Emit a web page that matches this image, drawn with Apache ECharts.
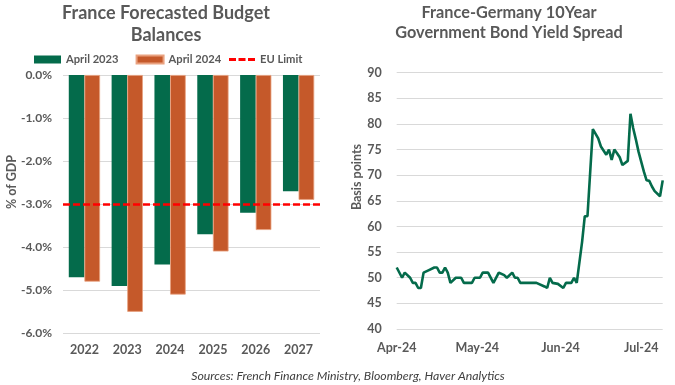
<!DOCTYPE html>
<html><head><meta charset="utf-8">
<script src="https://cdn.jsdelivr.net/npm/echarts@6/dist/echarts.min.js"></script>
<style>html,body{margin:0;padding:0;background:#fff}#c{width:675px;height:385px}</style>
</head><body><div id="c"></div>
<script>
// ---- Left chart data ----
const years = ['2022', '2023', '2024', '2025', '2026', '2027'];
const april2023 = [-4.7, -4.9, -4.4, -3.7, -3.2, -2.7];
const april2024 = [-4.8, -5.5, -5.1, -4.1, -3.6, -2.9];
const euLimit = -3.0;

// ---- Right chart data ----
const spreadDates = [
  '2024-04-01','2024-04-03','2024-04-04','2024-04-06','2024-04-07','2024-04-08','2024-04-09','2024-04-10',
  '2024-04-11','2024-04-13','2024-04-15','2024-04-16','2024-04-17','2024-04-18','2024-04-19','2024-04-20',
  '2024-04-21','2024-04-23','2024-04-25','2024-04-26','2024-04-29','2024-04-30','2024-05-02','2024-05-03',
  '2024-05-05','2024-05-07','2024-05-09','2024-05-11','2024-05-12','2024-05-14','2024-05-15','2024-05-16',
  '2024-05-17','2024-05-23','2024-05-26','2024-05-27','2024-05-28','2024-05-29','2024-05-31','2024-06-02',
  '2024-06-03','2024-06-05','2024-06-06','2024-06-07','2024-06-08','2024-06-09','2024-06-10','2024-06-11',
  '2024-06-13','2024-06-15','2024-06-16','2024-06-18','2024-06-19','2024-06-20','2024-06-21','2024-06-22',
  '2024-06-23','2024-06-24','2024-06-26','2024-06-27','2024-06-28','2024-06-29','2024-06-30','2024-07-02',
  '2024-07-03','2024-07-04','2024-07-05','2024-07-06','2024-07-08','2024-07-09'
];
const spreadValues = [
  52, 50, 51, 50, 49, 49, 48, 48,
  51, 51.5, 52, 52, 51, 51, 52, 51,
  49, 50, 50, 49, 49, 50, 50, 51,
  51, 49, 51, 50.5, 50, 51, 50, 50,
  49, 49, 48.3, 48, 50, 49, 48.8, 48,
  49, 49, 50, 49, 53, 57, 62, 62,
  79, 77.2, 75.6, 74, 75, 73, 75, 74.3,
  73.5, 72, 72.8, 82, 79.2, 77, 74.6, 70.7,
  69, 68.9, 67.8, 66.9, 65.9, 69
];
const spreadStart = '2024-04-01';
const spreadEnd = '2024-07-09';
const monthTicks = ['2024-04-01', '2024-05-01', '2024-06-01', '2024-07-01'];
const monthLabels = ['Apr-24', 'May-24', 'Jun-24', 'Jul-24'];

// day number counted from the first date (calendar days)
function dayNum(s) { const p = s.split('-').map(Number); return Math.round(Date.UTC(p[0], p[1] - 1, p[2]) / 86400000); }
const day0 = dayNum(spreadStart);
function dayOf(s) { return dayNum(s) - day0; }

const FONT = 'Lato';
const TXT = '#595959';
const GREEN = '#046B4B';
const ORANGE = '#C5592A';
const GRIDC = '#D9D9D9';

const chart = echarts.init(document.getElementById('c'), null, { renderer: 'canvas' });
const tickDays = monthTicks.map(dayOf);
const option = {
  animation: false,
  backgroundColor: '#ffffff',
  textStyle: { fontFamily: FONT },
  title: [
    { text: 'France Forecasted Budget\nBalances', left: 166, top: 2, textAlign: 'center', padding: 0,
      textStyle: { fontFamily: FONT, fontSize: 18, fontWeight: 'bold', color: TXT, lineHeight: 22 } },
    { text: 'France-Germany 10Year\nGovernment Bond Yield Spread', left: 509, top: 3, textAlign: 'center', padding: 0,
      textStyle: { fontFamily: FONT, fontSize: 16.3, fontWeight: 'bold', color: TXT, lineHeight: 20 } }
  ],
  legend: [
    { data: ['April 2023', 'April 2024'], left: 34, top: 54, padding: 0, itemGap: 17,
      itemWidth: 27, itemHeight: 8, icon: 'rect',
      textStyle: { fontFamily: FONT, fontSize: 11.2, fontWeight: 'bold', color: TXT } },
    { data: [{ name: 'EU Limit', icon: 'path://M0,0h7v3h-7z M9.5,0h7v3h-7z M19,0h7v3h-7z' }],
      left: 229, top: 54, padding: 0, itemWidth: 26, itemHeight: 3,
      textStyle: { fontFamily: FONT, fontSize: 11.2, fontWeight: 'bold', color: TXT } }
  ],
  grid: [
    { left: 63, top: 75, width: 257, height: 258.3 },
    { left: 396.7, top: 72.7, width: 266, height: 256.3 }
  ],
  xAxis: [
    { type: 'category', gridIndex: 0, data: years,
      axisLine: { show: false }, axisTick: { show: false },
      axisLabel: { margin: 10, fontFamily: FONT, fontSize: 12.5, fontWeight: 'bold', color: TXT } },
    { type: 'value', gridIndex: 1, min: 0, max: dayOf(spreadEnd),
      axisLine: { show: false }, axisTick: { show: false }, splitLine: { show: false },
      axisLabel: { margin: 12, fontFamily: FONT, fontSize: 12.5, fontWeight: 'bold', color: TXT,
        customValues: tickDays, showMinLabel: true,
        formatter: function (v) { const i = tickDays.indexOf(Math.round(v)); return i >= 0 ? monthLabels[i] : ''; } } }
  ],
  yAxis: [
    { type: 'value', gridIndex: 0, min: -6, max: 0, interval: 1,
      axisLine: { show: false }, axisTick: { show: false },
      splitLine: { lineStyle: { color: GRIDC, width: 1 } },
      axisLabel: { margin: 11, fontFamily: FONT, fontSize: 12, fontWeight: 'bold', color: TXT,
        formatter: function (v) { return v.toFixed(1) + '%'; } } },
    { type: 'value', gridIndex: 1, min: 40, max: 90, interval: 5,
      axisLine: { show: false }, axisTick: { show: false },
      splitLine: { lineStyle: { color: GRIDC, width: 1 } },
      axisLabel: { margin: 15, fontFamily: FONT, fontSize: 12.5, fontWeight: 'bold', color: TXT } }
  ],
  series: [
    { name: 'April 2023', type: 'bar', xAxisIndex: 0, yAxisIndex: 0, data: april2023,
      barGap: '0%', barCategoryGap: '27%', itemStyle: { color: GREEN } },
    { name: 'April 2024', type: 'bar', xAxisIndex: 0, yAxisIndex: 0, data: april2024,
      barGap: '0%', barCategoryGap: '27%', itemStyle: { color: ORANGE, borderColor: '#E9A17F', borderWidth: 0.8 } },
    { name: 'EU Limit', type: 'line', xAxisIndex: 0, yAxisIndex: 0, data: [], symbol: 'none',
      itemStyle: { color: '#FF0000' }, lineStyle: { color: '#FF0000', width: 2.5, type: [7, 3] },
      markLine: { silent: true, symbol: 'none', label: { show: false },
        lineStyle: { color: '#FF0000', width: 2.5, type: [7, 3] },
        data: [{ yAxis: euLimit }] }, z: 5 },
    { name: 'Spread', type: 'line', xAxisIndex: 1, yAxisIndex: 1,
      data: spreadDates.map(function (d, i) { return [dayOf(d), spreadValues[i]]; }),
      symbol: 'none', lineStyle: { color: GREEN, width: 2.6 }, itemStyle: { color: GREEN } }
  ],
  graphic: [
    { type: 'text', x: 12, y: 182, rotation: Math.PI / 2,
      style: { text: '% of GDP', fontFamily: FONT, fontSize: 12.5, fontWeight: 'bold', fill: TXT, align: 'center', verticalAlign: 'middle' } },
    { type: 'text', x: 357, y: 177, rotation: Math.PI / 2,
      style: { text: 'Basis points', fontFamily: FONT, fontSize: 12.5, fontWeight: 'bold', fill: TXT, align: 'center', verticalAlign: 'middle' } },
    { type: 'text', x: 348, y: 376,
      style: { text: 'Sources: French Finance Ministry, Bloomberg, Haver Analytics', fontFamily: FONT, fontSize: 12.3, fontStyle: 'italic', fill: '#404040', align: 'center', verticalAlign: 'middle' } }
  ]
};
chart.setOption(option);
</script>
</body></html>
